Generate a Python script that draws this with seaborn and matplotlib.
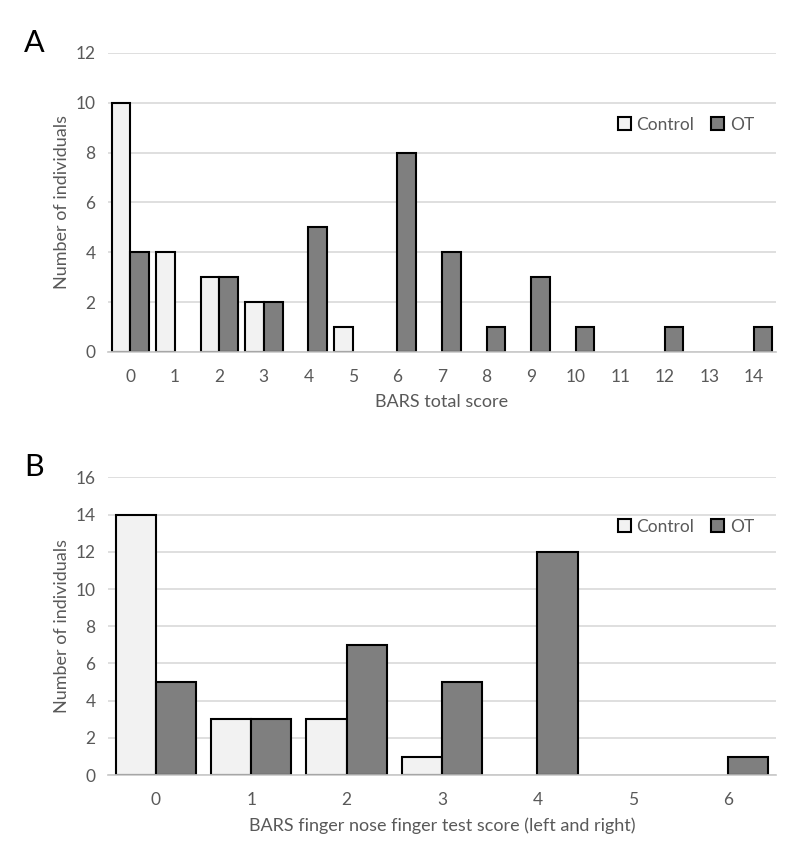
import numpy as np
import pandas as pd
import matplotlib
matplotlib.use("Agg")
import matplotlib.pyplot as plt
from matplotlib.patches import Patch
import seaborn as sns

# panel A: BARS total score
scores_a = list(range(15))
control_a = [10, 4, 3, 2, 0, 1, 0, 0, 0, 0, 0, 0, 0, 0, 0]
ot_a = [4, 0, 3, 2, 5, 0, 8, 4, 1, 3, 1, 0, 1, 0, 1]

# panel B: BARS finger nose finger test score
scores_b = list(range(7))
control_b = [14, 3, 3, 1, 0, 0, 0]
ot_b = [5, 3, 7, 5, 12, 0, 1]

groups = ["Control", "OT"]
colors = {"Control": "#f2f2f2", "OT": "#7f7f7f"}

sns.set_style("white")
plt.rcParams['font.family'] = ['Lato', 'DejaVu Sans']


def long_df(scores, ctrl, ot):
    return pd.DataFrame({
        "score": [str(s) for s in scores] * 2,
        "count": ctrl + ot,
        "group": ["Control"] * len(scores) + ["OT"] * len(scores),
    })


def draw(ax, df, n, ymax, xlabel, width, leg_y):
    sns.barplot(data=df, x="score", y="count", hue="group", hue_order=groups,
                palette=colors, width=width, gap=0, edgecolor="black",
                linewidth=1.5, saturation=1, ax=ax, legend=False)
    # empty categories should show nothing, not a flat outline
    for cont in ax.containers:
        for p in cont:
            if p.get_height() == 0:
                p.set_visible(False)
    ax.set_ylim(0, ymax)
    ax.set_xlim(-0.5, n - 0.5)
    ax.set_yticks(np.arange(0, ymax + 1, 2))
    ax.yaxis.grid(True, color="#d9d9d9", lw=1.2)
    ax.set_axisbelow(True)
    for s in ["top", "right", "left"]:
        ax.spines[s].set_visible(False)
    ax.spines["bottom"].set_color("#c8c8c8")
    ax.spines["bottom"].set_linewidth(1.2)
    ax.set_xticks(np.arange(-0.5, n, 1.0), minor=True)
    ax.tick_params(axis="x", which="minor", length=6, color="#c8c8c8", width=1.2)
    ax.tick_params(axis="x", which="major", length=0, pad=12, labelsize=12.5, labelcolor="#595959")
    ax.tick_params(axis="y", length=0, pad=9, labelsize=12.5, labelcolor="#595959")
    ax.set_xlabel(xlabel, fontsize=13, color="#595959", labelpad=7)
    ax.set_ylabel("Number of individuals", fontsize=13, color="#595959", labelpad=4)
    handles = [Patch(facecolor=colors[g], edgecolor="black", linewidth=1.5) for g in groups]
    ax.legend(handles, groups, ncol=2, frameon=False, fontsize=12.5, labelcolor="#595959",
              handlelength=0.75, handleheight=0.75, handletextpad=0.3,
              columnspacing=1.0, loc="center left", bbox_to_anchor=(0.74, leg_y))


fig = plt.figure(figsize=(8, 8.68), dpi=100)
ax_a = fig.add_axes([0.135, 0.5945, 0.835, 0.3445])
ax_b = fig.add_axes([0.135, 0.107, 0.835, 0.343])

draw(ax_a, long_df(scores_a, control_a, ot_a), len(scores_a), 12, "BARS total score", 0.84, 0.76)
draw(ax_b, long_df(scores_b, control_b, ot_b), len(scores_b), 16,
     "BARS finger nose finger test score (left and right)", 0.84, 0.835)

fig.text(0.03, 0.951, "A", fontsize=22, color="black", va="center")
fig.text(0.03, 0.462, "B", fontsize=22, color="black", va="center")

fig.savefig("out.png", dpi=100)
